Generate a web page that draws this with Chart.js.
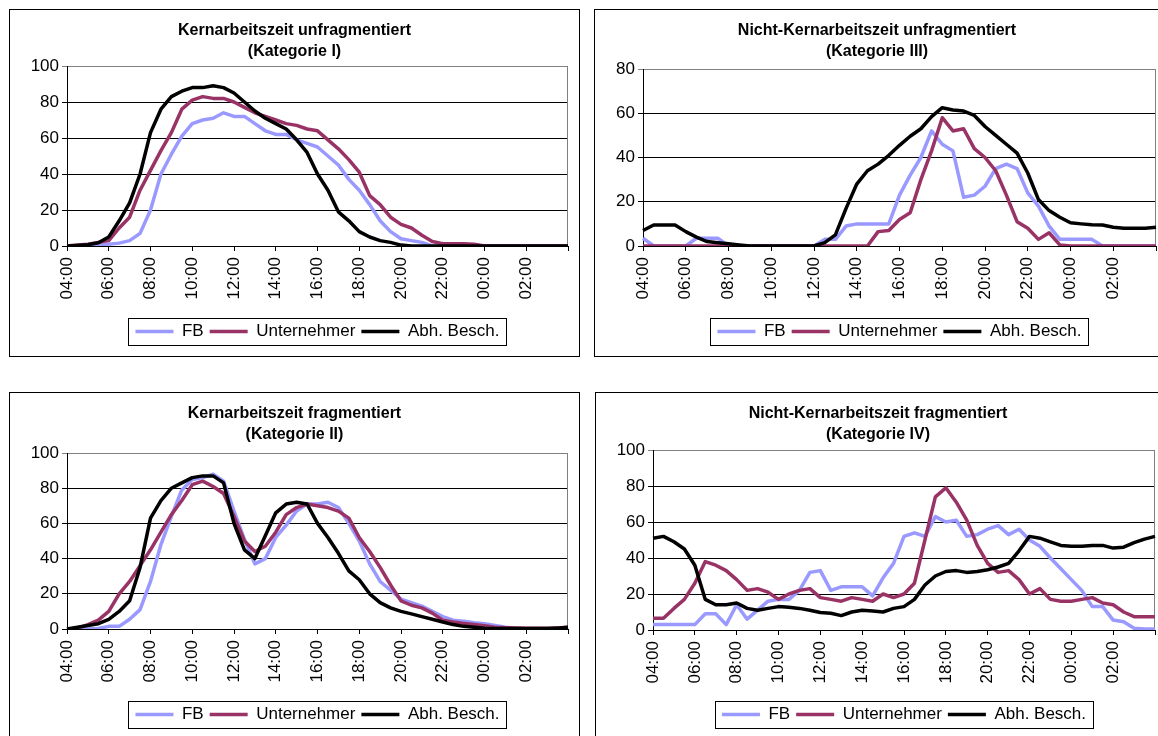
<!DOCTYPE html>
<html>
<head>
<meta charset="utf-8">
<script src="https://cdn.jsdelivr.net/npm/chart.js@4.4.0/dist/chart.umd.min.js"></script>
<style>
  body { margin: 0; background: #fff; width: 1158px; height: 736px; overflow: hidden; position: relative; }
  .panel { position: absolute; border: 1px solid #000; box-sizing: border-box; background: #fff; }
  .panel canvas { display: block; }
</style>
</head>
<body>
<div class="panel" style="left:9px;top:9px;width:571px;height:348px"><canvas id="chart-1" width="569" height="346"></canvas></div>
<div class="panel" style="left:594px;top:9px;width:566px;height:348px"><canvas id="chart-2" width="564" height="346"></canvas></div>
<div class="panel" style="left:9px;top:392px;width:571px;height:348px"><canvas id="chart-3" width="569" height="346"></canvas></div>
<div class="panel" style="left:595px;top:392px;width:566px;height:348px"><canvas id="chart-4" width="564" height="346"></canvas></div>
<script>
const timeLabels = [
  "04:00", "04:30", "05:00", "05:30", "06:00", "06:30", "07:00", "07:30",
  "08:00", "08:30", "09:00", "09:30", "10:00", "10:30", "11:00", "11:30",
  "12:00", "12:30", "13:00", "13:30", "14:00", "14:30", "15:00", "15:30",
  "16:00", "16:30", "17:00", "17:30", "18:00", "18:30", "19:00", "19:30",
  "20:00", "20:30", "21:00", "21:30", "22:00", "22:30", "23:00", "23:30",
  "00:00", "00:30", "01:00", "01:30", "02:00", "02:30", "03:00", "03:30",
  "04:00",
];
const seriesNames = ["FB", "Unternehmer", "Abh. Besch."];
const seriesColors = ["#9999FF", "#993366", "#000000"];

// Kategorie I
const fbKat1 = [
  0, 0, 0, 0.5, 1, 1.6, 3, 7,
  20, 40, 51, 61, 68, 70, 71, 74,
  72, 72, 68, 64, 62, 62, 59, 57,
  55, 50, 45, 37, 31, 23, 14, 8,
  4, 3, 2, 0, 0, 0, 0, 0,
  0, 0, 0, 0, 0, 0, 0, 0,
  0,
];
const untKat1 = [
  0, 0.5, 1, 2, 3, 10, 16, 31,
  42, 53, 63, 76, 81, 83, 82, 82,
  80, 77, 74, 72, 70, 68, 67, 65,
  64, 59, 54, 48, 41, 28, 23, 16,
  12, 10, 6, 2.5, 1.3, 1.3, 1.3, 1,
  0, 0, 0, 0, 0, 0, 0, 0,
  0,
];
const abhKat1 = [
  0, 0.3, 0.7, 1.8, 5, 14, 24, 40,
  63, 76, 83, 86, 88, 88, 89, 88,
  85, 80, 75, 71, 68, 65, 59, 52,
  40, 31, 19, 14, 8, 5, 3, 2,
  0.5, 0, 0, 0, 0, 0, 0, 0,
  0, 0, 0, 0, 0, 0, 0, 0,
  0,
];

// Kategorie III
const fbKat3 = [
  3.5, 0, 0, 0, 0, 3.5, 3.5, 3.5,
  0, 0, 0, 0, 0, 0, 0, 0,
  0, 3, 3, 9, 10, 10, 10, 10,
  23, 32, 40, 52, 46, 43, 22, 23,
  27, 35, 37, 35, 24, 18, 9, 3,
  3, 3, 3, 0, 0, 0, 0, 0,
  0,
];
const untKat3 = [
  0, 0, 0, 0, 0, 0, 0, 0,
  0, 0, 0, 0, 0, 0, 0, 0,
  0, 0, 0, 0, 0, 0, 6.5, 7,
  12, 15, 30, 43, 58, 52, 53, 44,
  40, 34, 23, 11, 8, 3, 6, 0.5,
  0, 0, 0, 0, 0, 0, 0, 0,
  0,
];
const abhKat3 = [
  7, 9.5, 9.5, 9.5, 6.5, 4, 2, 1.5,
  1, 0.5, 0, 0, 0, 0, 0, 0,
  0, 1.5, 5, 17, 28, 34, 37, 41,
  45.5, 49.6, 53, 58.5, 62.5, 61.5, 61, 59,
  54, 50, 46, 42, 33, 21, 16, 13,
  10.5, 10, 9.6, 9.5, 8.5, 8, 8, 8,
  8.5,
];

// Kategorie II
const fbKat2 = [
  0, 0, 0, 0.3, 1.5, 1.5, 5.5, 11,
  27, 48, 64, 79, 85, 86, 88, 84,
  67, 51, 37, 40, 52, 59, 67, 71,
  71, 72, 69, 60, 50, 37, 27, 22,
  17, 15, 13, 10, 7, 5, 4.4, 3.5,
  3, 2, 1, 0.5, 0, 0, 0, 0,
  0,
];
const untKat2 = [
  0, 0.5, 2.5, 5, 10, 20, 27, 36,
  45, 55, 65, 73, 82, 84, 81, 77,
  64, 50, 44, 47, 55, 65, 69, 71,
  70, 69, 67, 63, 52, 44, 35, 25,
  16, 13.5, 12, 9, 5, 4, 3.2, 2.5,
  1.9, 1, 0.7, 0.5, 0.4, 0.4, 0.4, 0.6,
  1,
];
const abhKat2 = [
  0, 1, 2, 3, 5.5, 10, 16, 35,
  63, 73, 80, 83, 86, 87, 87, 83,
  60, 45, 40, 53, 66, 71, 72, 71,
  60, 52, 43, 33, 28, 20, 15, 12,
  10, 8.6, 7, 5.5, 4, 2.5, 1.5, 1,
  0.4, 0.3, 0.3, 0.3, 0.3, 0.3, 0.3, 0.5,
  1,
];

// Kategorie IV
const fbKat4 = [
  3, 3, 3, 3, 3, 9, 9, 3,
  14, 6, 11, 16, 17, 17, 22, 32,
  33, 22, 24, 24, 24, 19, 29, 37,
  52, 54, 52, 63, 60, 61, 52, 53,
  56, 58, 53, 56, 50, 46.5, 40, 34,
  28, 22, 13, 13, 5.5, 4.6, 1, 0.5,
  0.5,
];
const untKat4 = [
  6.5, 6.5, 12, 17, 26, 38, 36, 33,
  28, 22, 23, 21, 17, 20, 22, 23,
  18, 17, 16, 18, 17, 16, 20, 18,
  20, 26, 50, 74, 79, 71, 61, 47,
  37, 32, 33, 28, 20, 23, 17, 16,
  16, 17, 18, 15, 14, 10, 7.4, 7.4,
  7.4,
];
const abhKat4 = [
  51, 52, 49, 45, 36, 17, 14, 14,
  15, 12, 11, 12, 13, 12.6, 12, 11,
  9.7, 9.3, 8, 10, 11, 10.5, 10, 12,
  13, 17, 25, 30, 32.5, 33, 32, 32.5,
  33.5, 35, 37, 44, 52, 51, 49, 47,
  46.5, 46.5, 47, 47, 45.5, 46, 48.5, 50.5,
  52,
];

const fontFamily = '"Liberation Sans", Arial, sans-serif';
Chart.defaults.font.family = fontFamily;
Chart.defaults.color = "#000";

// gray frame on the right, legend box, title/legend centred like the original
const framePlugin = {
  id: "frame",
  afterLayout(chart) {
    const area = chart.chartArea;
    chart.legend.left = area.left;
    chart.legend.right = area.right;
    chart.titleBlock.left = 0;
    chart.titleBlock.right = chart.width;
  },
  beforeDatasetsDraw(chart) {
    const { ctx, chartArea: { top, bottom, right } } = chart;
    ctx.save();
    ctx.strokeStyle = "#808080";
    ctx.lineWidth = 1;
    ctx.beginPath();
    ctx.moveTo(Math.round(right) - 0.5, top);
    ctx.lineTo(Math.round(right) - 0.5, bottom);
    ctx.stroke();
    ctx.restore();
  },
  afterDraw(chart) {
    const boxes = chart.legend.legendHitBoxes;
    if (!boxes || !boxes.length) return;
    const ctx = chart.ctx;
    const x0 = Math.min(...boxes.map((b) => b.left)) - 7;
    const x1 = Math.max(...boxes.map((b) => b.left + b.width)) + 7;
    const y0 = boxes[0].top - 5;
    const y1 = boxes[0].top + boxes[0].height + 5;
    ctx.save();
    ctx.strokeStyle = "#000";
    ctx.lineWidth = 1;
    ctx.strokeRect(Math.round(x0) + 0.5, Math.round(y0) + 0.5, Math.round(x1 - x0), Math.round(y1 - y0));
    ctx.restore();
  },
};

function series(i, data, order) {
  return {
    label: seriesNames[i],
    data: data,
    borderColor: seriesColors[i],
    backgroundColor: seriesColors[i],
    pointBorderColor: seriesColors[i],
    pointBackgroundColor: seriesColors[i],
    borderWidth: 3.5,
    pointBorderWidth: 3.5,
    pointRadius: 0,
    order: order,
  };
}

function makeChart(id, title, fb, unt, abh, cfg) {
  const ctx = document.getElementById(id).getContext("2d");
  return new Chart(ctx, {
    type: "line",
    data: {
      labels: timeLabels,
      datasets: [series(0, fb, 3), series(1, unt, 2), series(2, abh, 1)],
    },
    plugins: [framePlugin],
    options: {
      responsive: false,
      animation: false,
      events: [],
      elements: {
        line: { tension: 0, borderJoinStyle: "round", fill: false },
      },
      layout: { padding: { left: 0, right: cfg.padRight, top: 0, bottom: 6 } },
      plugins: {
        title: {
          display: true,
          text: title,
          color: "#000",
          font: { size: 16, weight: "bold", lineHeight: "21px" },
          padding: { top: 10, bottom: cfg.titleBottom },
        },
        legend: {
          position: "bottom",
          labels: {
            usePointStyle: true,
            pointStyle: "line",
            pointStyleWidth: 38,
            color: "#000",
            padding: 6,
            font: { size: 17 },
            sort: (a, b) => a.datasetIndex - b.datasetIndex,
          },
        },
        tooltip: { enabled: false },
      },
      scales: {
        x: {
          ticks: {
            autoSkip: false,
            minRotation: 90,
            maxRotation: 90,
            padding: 6,
            color: "#000",
            font: { size: 17 },
            callback: function (val, index) {
              if (index === timeLabels.length - 1) return "";
              return index % 4 === 0 ? this.getLabelForValue(val) : null;
            },
          },
          grid: { drawOnChartArea: false, tickLength: 5, color: "#000" },
          border: { color: "#000" },
          afterFit: function (scale) {
            scale.height = cfg.xHeight;
            scale.paddingLeft = 0;
            scale.paddingRight = 0;
          },
        },
        y: {
          min: 0,
          max: cfg.yMax,
          ticks: { stepSize: 20, padding: 3, color: "#000", font: { size: 17 } },
          grid: {
            color: (c) => (c.tick && c.tick.value === cfg.yMax ? "#808080" : "#000"),
            tickLength: 5,
          },
          border: { color: "#000" },
          afterFit: function (scale) {
            scale.width = cfg.yWidth;
          },
        },
      },
    },
  });
}

makeChart("chart-1", ["Kernarbeitszeit unfragmentiert", "(Kategorie I)"], fbKat1, untKat1, abhKat1,
  { yMax: 100, yWidth: 57, padRight: 11, titleBottom: 4, xHeight: 71 });
makeChart("chart-2", ["Nicht-Kernarbeitszeit unfragmentiert", "(Kategorie III)"], fbKat3, untKat3, abhKat3,
  { yMax: 80, yWidth: 48, padRight: 3, titleBottom: 7, xHeight: 71 });
makeChart("chart-3", ["Kernarbeitszeit fragmentiert", "(Kategorie II)"], fbKat2, untKat2, abhKat2,
  { yMax: 100, yWidth: 57, padRight: 11, titleBottom: 8, xHeight: 71 });
makeChart("chart-4", ["Nicht-Kernarbeitszeit fragmentiert", "(Kategorie IV)"], fbKat4, untKat4, abhKat4,
  { yMax: 100, yWidth: 57, padRight: 5, titleBottom: 5, xHeight: 70 });
</script>
</body>
</html>
